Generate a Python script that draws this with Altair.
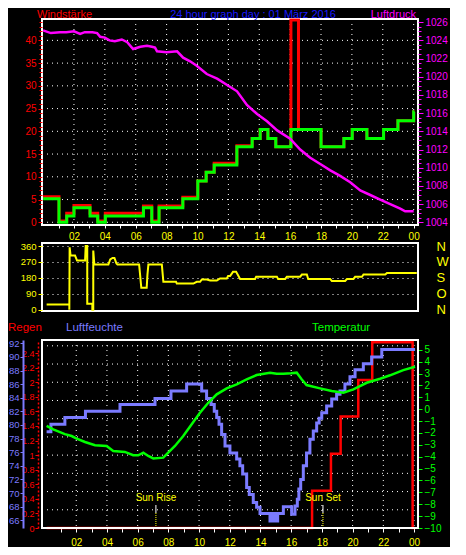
import altair as alt
import pandas as pd

# ---------------- data ----------------
wind_hours = [0.0, 1.03, 1.53, 2.0, 3.04, 3.54, 4.03, 6.5, 7.04, 7.51, 9.05, 10.02, 10.56, 11.08, 12.55,
              13.54, 14.06, 14.56, 15.07, 16.05, 16.54, 18.0, 19.48, 20.02, 20.97, 22.05, 22.98, 24.0, 24.05]
wind_mean = [5.2, 0.0, 1.4, 3.2, 1.4, 0.0, 1.4, 3.2, 0.0, 3.2, 5.2, 9.1, 11.0, 12.6, 16.6,
             18.4, 20.4, 18.4, 16.6, 20.4, 20.4, 16.6, 18.4, 20.4, 18.4, 20.4, 22.3, 24.3, 24.3]
wind_gust = [5.6, 0.3, 2.0, 3.7, 2.0, 0.3, 2.0, 3.6, 0.3, 3.6, 5.5, 9.1, 11.0, 13.0, 16.8,
             18.4, 20.4, 18.4, 16.6, 44.5, 20.4, 16.6, 18.4, 20.4, 18.4, 20.4, 22.3, 24.3, 24.3]

press_hours = [0.0, 0.5, 1.1, 1.5, 2.0, 2.4, 2.7, 3.2, 3.5, 3.7, 4.0, 4.3, 4.65, 5.1, 5.45, 5.83, 6.3, 6.73,
               7.05, 7.25, 7.38, 8.0, 8.68, 9.07, 9.52, 9.95, 10.6, 11.27, 11.92, 12.56, 13.2, 13.86, 14.5,
               15.16, 16.0, 16.65, 17.3, 17.95, 18.6, 19.24, 19.89, 20.54, 21.19, 21.83, 22.48, 23.13, 23.45, 24.0]
press_hpa = [1025.1, 1024.8, 1024.9, 1024.9, 1025.0, 1024.7, 1024.9, 1024.9, 1024.8, 1024.4, 1024.3, 1024.0,
             1023.9, 1024.1, 1023.8, 1023.05, 1023.3, 1023.4, 1023.3, 1023.2, 1022.8, 1022.7, 1022.8, 1022.1,
             1021.7, 1021.2, 1020.3, 1019.8, 1019.1, 1018.4, 1016.9, 1015.9, 1015.1, 1014.1, 1013.2, 1012.0,
             1011.1, 1010.4, 1009.7, 1009.1, 1008.4, 1007.5, 1007.0, 1006.5, 1006.0, 1005.5, 1005.2, 1005.2]

dir_hours = [0.23, 1.70, 1.70, 1.72, 1.78, 2.07, 2.2, 2.72, 2.76, 2.86, 2.86, 3.19, 3.19, 3.25, 3.25, 3.32,
             4.23, 4.35, 4.5, 4.62, 4.75, 4.82, 6.22, 6.28, 6.36, 6.71, 6.76, 6.82, 7.69, 7.79, 8.61, 8.66,
             9.73, 9.95, 10.17, 10.28, 10.6, 10.82, 11.25, 11.46, 11.9, 11.98, 12.11, 12.30, 12.5, 12.76,
             13.73, 13.80, 15.14, 15.22, 15.68, 15.79, 16.65, 16.76, 17.08, 17.17, 18.59, 18.70, 19.56,
             19.68, 20.1, 20.21, 20.65, 20.75, 22.16, 22.27, 24.2]
dir_deg = [30, 30, 0, 353, 306, 306, 278, 278, 360, 360, 34, 34, 0, 0, 334, 255,
           255, 285, 293, 293, 262, 255, 255, 200, 124, 124, 200, 255, 255, 158, 158, 148,
           148, 158, 158, 171, 171, 165, 165, 177, 177, 190, 190, 214, 214, 174,
           174, 187, 187, 174, 174, 187, 187, 199, 199, 174, 174, 163, 163,
           174, 174, 186, 186, 199, 199, 208, 208]
compass = ["N", "O", "S", "W", "N"]

hum_hours = [0.07, 0.35, 1.26, 2.6, 4.85, 7.13, 8.17, 9.19, 10.17, 10.49, 10.78, 10.99, 11.15, 11.30, 11.47,
             11.69, 12.01, 12.45, 12.66, 12.84, 13.10, 13.27, 13.53, 13.75, 13.97, 14.62, 14.70, 14.76,
             14.84, 14.90, 14.98, 15.04, 15.12, 15.49, 16.03, 16.25, 16.40, 16.50, 16.62, 16.79, 17.0,
             17.22, 17.44, 17.66, 17.82, 17.99, 18.31, 18.64, 18.96, 19.18, 19.5, 19.83, 20.16, 20.7,
             21.24, 21.9, 24.07]
hum_pct = [79.0, 80.1, 81.1, 82.0, 83.0, 83.9, 85.0, 86.0, 85.0, 83.9, 83.0, 82.0, 81.1, 80.1, 78.6,
           76.9, 75.9, 75.0, 74.0, 72.8, 70.8, 69.8, 68.6, 67.9, 67.0, 65.9, 67.0, 65.9,
           67.0, 65.9, 67.0, 65.9, 67.0, 68.0, 66.9, 68.1, 69.1, 70.6, 72.0, 74.0, 75.9,
           77.9, 79.1, 80.3, 81.0, 81.8, 82.8, 83.8, 84.5, 85.0, 86.0, 87.1, 88.1, 89.0,
           90.0, 91.1, 91.1]

temp_hours = [0.07, 0.5, 1.26, 1.7, 2.03, 2.57, 3.22, 3.98, 4.41, 5.17, 5.71, 6.04, 6.37, 6.69, 7.02,
              7.67, 7.99, 8.43, 8.97, 9.52, 10.06, 10.6, 11.15, 11.8, 12.45, 13.1, 13.75, 14.62, 15.06,
              15.49, 16.0, 16.36, 16.68, 17.0, 17.88, 18.64, 19.4, 20.05, 20.92, 21.79, 22.44, 23.3, 24.07]
temp_c = [-1.4, -1.7, -2.1, -2.26, -2.48, -2.76, -3.04, -3.1, -3.52, -3.6, -3.88, -3.88, -3.66, -3.94, -4.15,
          -4.08, -3.66, -3.1, -2.26, -1.27, -0.3, 0.54, 1.25, 1.75, 2.09, 2.51, 2.87, 3.07, 2.98,
          2.98, 3.02, 3.07, 2.51, 2.03, 1.75, 1.53, 1.38, 1.67, 2.22, 2.56, 2.85, 3.29, 3.57]

rain_hours = [0.07, 17.36, 18.59, 19.22, 20.37, 21.28, 23.91, 24.07]
rain_mm = [0.0, 0.51, 1.02, 1.53, 2.03, 2.55, 0.0, 0.0]

sun_labels = ["Sun Rise", "Sun Set"]
sun_hours = [7.19, 18.07]

hour_ticks = list(range(1, 25))
grid_hours = list(range(2, 25, 2))
wind_ticks = list(range(0, 45))
wind_grid = list(range(0, 45, 5))
press_ticks = [1004 + 0.5 * i for i in range(45)]
dir_ticks = [0, 90, 180, 270, 360]
hum_ticks = list(range(66, 93, 2))
rain_ticks = [0, 0.2, 0.4, 0.6, 0.8, 1, 1.2, 1.4, 1.6, 1.8, 2, 2.2, 2.4]
rain_grid = [0.25, 0.5, 0.75, 1.0, 1.25, 1.5, 1.75, 2.0, 2.25, 2.5]
temp_ticks = list(range(-10, 6))

# ---------------- style ----------------
FONT = "Liberation Sans"
RED = "#ff0000"
GREEN = "#00ff00"
MAG = "#ff00ff"
YEL = "#ffff00"
TBLUE = "#1a1aff"
HUM = "#7b7bff"
WHITE = "#ffffff"

W = 376
H_TOP = 206
H_MID = 68
H_BOT = 199
BT = 11

X_TOP = alt.Scale(domain=[-0.07, 24.28], nice=False, zero=False)
X_BOT = alt.Scale(domain=[-0.23, 24.26], nice=False, zero=False)
WIND_SC = alt.Scale(domain=[-0.6, 44.7], nice=False, zero=False)
PRESS_SC = alt.Scale(domain=[1003.7, 1026.35], nice=False, zero=False)
DIR_SC = alt.Scale(domain=[-7, 377], nice=False, zero=False)
RAIN_SC = alt.Scale(domain=[0, 2.58], range=[H_BOT, BT], nice=False, zero=False)
HUM_SC = alt.Scale(domain=[64.87, 92.48], range=[H_BOT, BT], nice=False, zero=False)
TEMP_SC = alt.Scale(domain=[-10, 5.82], range=[H_BOT, BT], nice=False, zero=False)

LAB_EXPR = "datum.value % 2 == 0 ? (datum.value % 24 < 10 ? '0' : '') + format(datum.value % 24, 'd') : ''"
DOT = [1, 4]


def hour_axis(tick=3, pad=3):
    return alt.Axis(orient="bottom", values=hour_ticks, labelExpr=LAB_EXPR, labelColor=YEL,
                    labelFontSize=10, labelPadding=pad, tickColor=WHITE, tickSize=tick,
                    domain=False, grid=False, title=None)


TOP_AX = hour_axis()
BOT_AX = hour_axis(tick=4, pad=5)


def xt(field="h"):
    return alt.X(field + ":Q", scale=X_TOP, axis=TOP_AX)


def xb(field="h"):
    return alt.X(field + ":Q", scale=X_BOT, axis=BOT_AX)


def note(txt, color, x, y, align="left", baseline="top", size=11):
    return alt.Chart(pd.DataFrame({"t": [txt]})).mark_text(
        color=color, align=align, baseline=baseline, fontSize=size, font=FONT
    ).encode(text="t:N", x=alt.value(x), y=alt.value(y))


# ---------------- top panel ----------------
df_wind = pd.DataFrame({"h": wind_hours, "mean": wind_mean, "gust": wind_gust})
df_press = pd.DataFrame({"h": press_hours, "p": press_hpa})

top_vgrid = alt.Chart(pd.DataFrame({"h": grid_hours})).mark_rule(
    color=WHITE, strokeDash=DOT, strokeWidth=1).encode(x=xt())
top_hgrid = alt.Chart(pd.DataFrame({"w": wind_grid})).mark_rule(
    color=WHITE, strokeDash=DOT, strokeWidth=1).encode(
    y=alt.Y("w:Q", scale=WIND_SC, axis=None))

wind_axis = alt.Axis(
    orient="left", values=wind_ticks, labelExpr="datum.value % 5 == 0 ? datum.label : ''",
    tickSize={"condition": {"test": "datum.value % 5 == 0", "value": 4}, "value": 3},
    tickColor=RED, labelColor=RED, labelFontSize=10, labelPadding=2,
    grid=False, domain=False, title=None)
press_axis = alt.Axis(
    orient="right", values=press_ticks, labelExpr="datum.value % 2 == 0 ? format(datum.value, 'd') : ''",
    tickSize={"condition": {"test": "datum.value % 2 == 0", "value": 5}, "value": 3},
    tickColor=MAG, labelColor=MAG, labelFontSize=10, labelPadding=2,
    grid=False, domain=False, title=None)

gust = alt.Chart(df_wind).mark_line(interpolate="step-after", color=RED, strokeWidth=3).encode(
    x=xt(), y=alt.Y("gust:Q", scale=WIND_SC, axis=wind_axis))
mean = alt.Chart(df_wind).mark_line(interpolate="step-after", color=GREEN, strokeWidth=3).encode(
    x=xt(), y=alt.Y("mean:Q", scale=WIND_SC, axis=None))
press = alt.Chart(df_press).mark_line(color=MAG, strokeWidth=2.5).encode(
    x=xt(), y=alt.Y("p:Q", scale=PRESS_SC, axis=press_axis))

top = alt.layer(
    top_vgrid, top_hgrid, gust, mean, press,
    note("Windstärke", RED, -5, -10),
    note("24 hour graph day : 01 März 2016", TBLUE, 211, -10, align="center"),
    note("Luftdruck", MAG, W - 2, -10, align="right"),
).resolve_scale(y="independent").properties(width=W, height=H_TOP)

# ---------------- middle panel ----------------
df_dir = pd.DataFrame({"h": dir_hours, "deg": dir_deg})
compass_expr = "[" + ",".join("'%s'" % c for c in compass) + "][round(datum.value / 90)]"

dir_line = alt.Chart(df_dir).mark_line(color=YEL, strokeWidth=2).encode(
    x=alt.X("h:Q", scale=X_TOP, axis=None),
    y=alt.Y("deg:Q", scale=DIR_SC, axis=alt.Axis(
        orient="left", values=dir_ticks, labelColor=YEL, tickColor=YEL, tickSize=4,
        labelFontSize=9.5, labelPadding=2, grid=True, gridColor=WHITE, gridDash=DOT,
        domain=False, title=None)))
dir_compass = alt.Chart(df_dir).mark_line(strokeOpacity=0).encode(
    x=alt.X("h:Q", scale=X_TOP, axis=None),
    y=alt.Y("deg:Q", scale=DIR_SC, axis=alt.Axis(
        orient="right", values=dir_ticks, labelExpr=compass_expr, labelColor=YEL,
        labelFontSize=13, labelPadding=18, ticks=False, grid=False, domain=False, title=None)))

mid = alt.layer(dir_line, dir_compass).resolve_scale(y="independent").properties(width=W, height=H_MID)

# ---------------- bottom panel ----------------
df_hum = pd.DataFrame({"h": hum_hours, "v": hum_pct})
df_temp = pd.DataFrame({"h": temp_hours, "v": temp_c})
df_rain = pd.DataFrame({"h": rain_hours, "v": rain_mm})
df_sun = pd.DataFrame({"label": sun_labels, "h": sun_hours})

hgrid = alt.Chart(pd.DataFrame({"r": rain_grid})).mark_rule(
    color=WHITE, strokeDash=DOT, strokeWidth=1).encode(
    y=alt.Y("r:Q", scale=RAIN_SC, axis=None))
vgrid = alt.Chart(pd.DataFrame({"h": grid_hours})).mark_rule(
    color=WHITE, strokeDash=DOT, strokeWidth=1).encode(
    x=xb(), y=alt.value(BT), y2=alt.value(H_BOT))

rain = alt.Chart(df_rain).mark_line(interpolate="step-after", color=RED, strokeWidth=2.5).encode(
    x=xb(),
    y=alt.Y("v:Q", scale=RAIN_SC, axis=alt.Axis(
        orient="left", offset=4, values=rain_ticks, format="~g", labelColor=RED, tickColor=RED,
        tickSize=3, labelFontSize=9, labelPadding=1, domainColor=RED,
        domainDash=[2, 2], domainWidth=1.5, grid=False, title=None)))
hum = alt.Chart(df_hum).mark_line(interpolate="step-after", color=HUM, strokeWidth=3).encode(
    x=xb(),
    y=alt.Y("v:Q", scale=HUM_SC, axis=alt.Axis(
        orient="left", offset=19, values=hum_ticks, labelColor=HUM, tickColor=HUM,
        tickSize=3, labelFontSize=9.5, labelPadding=1, domainColor=HUM,
        domainWidth=2, grid=False, title=None)))
temp = alt.Chart(df_temp).mark_line(color=GREEN, strokeWidth=2.5).encode(
    x=xb(),
    y=alt.Y("v:Q", scale=TEMP_SC, axis=alt.Axis(
        orient="right", values=temp_ticks, labelColor=GREEN, tickColor=GREEN, tickSize=4,
        labelFontSize=10, labelPadding=2, domain=False, grid=False, title=None)))

sun_text = alt.Chart(df_sun).mark_text(color=YEL, fontSize=10, font=FONT, baseline="middle").encode(
    x=xb(), y=alt.value(169), text="label:N")
sun_white = alt.Chart(df_sun).mark_rule(color=WHITE, strokeWidth=1).encode(
    x=xb(), y=alt.value(176), y2=alt.value(184))
sun_yel = alt.Chart(df_sun).mark_rule(color=YEL, strokeWidth=1, strokeDash=[1, 1]).encode(
    x=xb(), y=alt.value(184), y2=alt.value(H_BOT))

frame = alt.Chart(pd.DataFrame({"f": [0]})).mark_rect(
    fillOpacity=0, stroke=WHITE, strokeWidth=2).encode(
    x=alt.value(0), x2=alt.value(W), y=alt.value(BT), y2=alt.value(H_BOT))

bot = alt.layer(
    vgrid, hgrid, rain, hum, temp, sun_text, sun_white, sun_yel, frame,
    note("Regen", RED, -34, -1, baseline="middle", size=11.5),
    note("Luftfeuchte", HUM, 24, -1, baseline="middle", size=11.5),
    note("Temperatur", GREEN, 270, -1, baseline="middle", size=11.5),
).resolve_scale(y="independent").properties(
    width=W, height=H_BOT, view=alt.ViewBackground(strokeOpacity=0))

chart = alt.vconcat(top, mid, bot, spacing=18, bounds="flush").properties(
    padding=0
).configure(background="#000000", font=FONT).configure_view(
    stroke=WHITE, strokeWidth=2
).configure_axis(labelFont=FONT)

chart.save("out.html", embed_options={"renderer": "svg", "actions": False})
